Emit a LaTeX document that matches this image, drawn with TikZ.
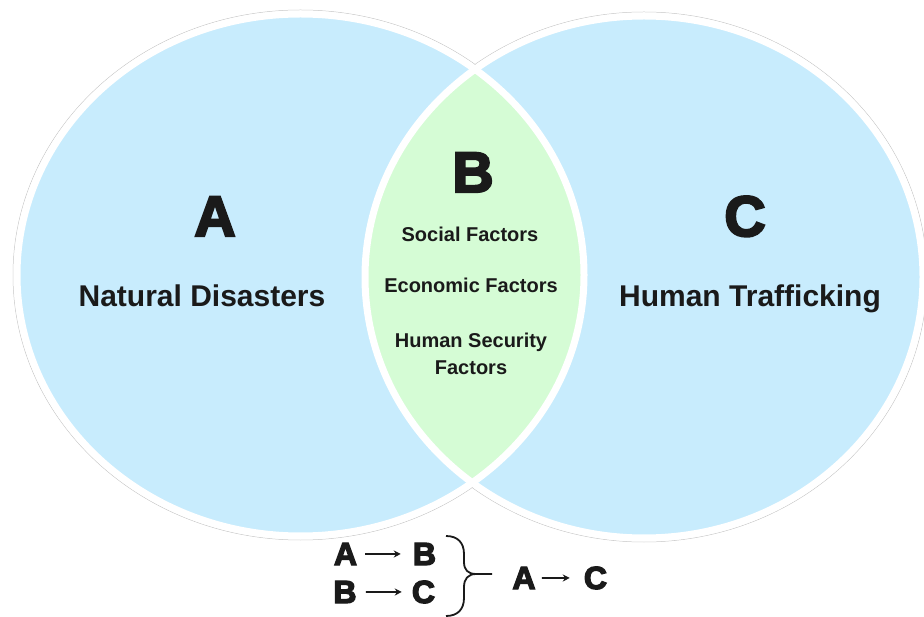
\documentclass[tikz,border=0pt]{standalone}
\usepackage{fontspec}
\setmainfont{Liberation Sans}
\newfontfamily\heavyfont[FakeBold=4]{Liberation Sans Bold}
\usetikzlibrary{arrows.meta}
\definecolor{vblue}{RGB}{200,236,253}
\definecolor{vgreen}{RGB}{213,252,213}
\definecolor{ink}{RGB}{26,26,26}
\begin{document}
\begin{tikzpicture}[x=1pt,y=-1pt,
  bigletter/.style={font=\heavyfont\fontsize{57}{57}\selectfont, text=ink, anchor=base, inner sep=0pt},
  title/.style={font=\bfseries\fontsize{30}{36}\selectfont, text=ink, anchor=base, inner sep=0pt},
  factor/.style={font=\bfseries\fontsize{20}{24}\selectfont, text=ink, anchor=base, inner sep=0pt},
  formula/.style={font=\heavyfont\fontsize{32}{32}\selectfont, text=ink, anchor=base, inner sep=0pt},
  arr/.style={-{Stealth[length=7pt,width=7pt]}, line width=1.6pt, draw=ink},
  ring/.style={draw=gray!45, line width=0.5pt},
  rim/.style={draw=white, line width=7pt}]
\fill[white] (0,0) rectangle (924,617);
\useasboundingbox (0,0) rectangle (924,617);
% outer faint outlines
\draw[ring] (300.5,275) ellipse [x radius=287.5pt, y radius=265pt];
\draw[ring] (644,277) ellipse [x radius=283pt, y radius=265pt];
% fills
\fill[vblue] (300.5,275) ellipse [x radius=283.5pt, y radius=261pt];
\fill[vblue] (644,277) ellipse [x radius=279pt, y radius=261pt];
\begin{scope}
  \clip (300.5,275) ellipse [x radius=283.5pt, y radius=261pt];
  \fill[vgreen] (644,277) ellipse [x radius=279pt, y radius=261pt];
\end{scope}
% white rims
\draw[rim] (300.5,275) ellipse [x radius=283.5pt, y radius=261pt];
\draw[rim] (644,277) ellipse [x radius=279pt, y radius=261pt];
% labels
\node[bigletter] (A) at (215,236) {A};
\node[title] (nd) at (202,307) {Natural Disasters};
\node[bigletter] (B) at (473,192) {B};
\node[factor] (sf) at (470,242) {Social Factors};
\node[factor] (ef) at (471,293) {Economic Factors};
\node[factor] (hs) at (471,348) {Human Security};
\node[factor] (hsf) at (471,375) {Factors};
\node[bigletter] (C) at (745,236) {C};
\node[title] (ht) at (750,307) {Human Trafficking};
% formula
\node[formula] (a1) at (345.5,565) {A};
\node[formula] (b1) at (424.5,565) {B};
\node[formula] (b2) at (345,603) {B};
\node[formula] (c2) at (423.5,603) {C};
\node[formula] (a3) at (524,589) {A};
\node[formula] (c3) at (595.5,589) {C};
\draw[arr, shorten <=8pt, shorten >=12pt] (a1.east) -- (b1.west);
\draw[arr, shorten <=9pt, shorten >=10pt] (b2.east) -- (c2.west);
\draw[arr, shorten <=6pt, shorten >=14pt] (a3.east) -- (c3.west);
% brace
\coordinate (bt) at (446,536);
\coordinate (bb) at (446,616);
\coordinate (tip) at (492,574);
\draw[ink, line width=1.8pt]
  (bt) .. controls (458,536) and (464,543) .. (464,554) -- (464,562)
  .. controls (464,570) and (468,574) .. (476,574) -- (tip);
\draw[ink, line width=1.8pt]
  (476,574) .. controls (468,574) and (464,579) .. (464,587) -- (464,598)
  .. controls (464,609) and (458,616) .. (bb);
\end{tikzpicture}
\end{document}
